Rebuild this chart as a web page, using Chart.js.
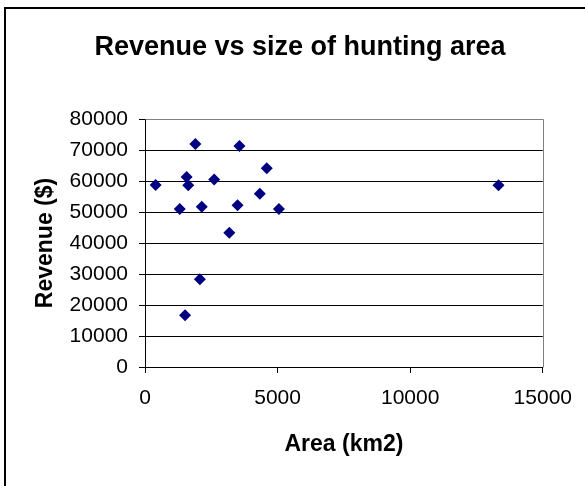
<!DOCTYPE html>
<html>
<head>
<meta charset="utf-8">
<script src="https://cdn.jsdelivr.net/npm/chart.js@4.4.0/dist/chart.umd.min.js"></script>
<style>
  html, body { margin: 0; padding: 0; background: #fff; }
  #wrap { width: 585px; height: 486px; }
</style>
</head>
<body>
<div id="wrap"><canvas id="scatterChart" width="585" height="486"></canvas></div>
<script>
// données
const areaKm2 = [400, 1900, 1570, 1630, 1310, 2140, 2610, 3560, 4590, 4330, 3490, 5050, 3180, 2070, 1510, 13330]
const revenue = [58700, 71900, 61300, 58600, 51000, 51700, 60500, 71300, 64100, 55900, 52200, 51000, 43300, 28300, 16700, 58600]
const xTicks = [0, 5000, 10000, 15000]
const yTicks = [0, 10000, 20000, 30000, 40000, 50000, 60000, 70000, 80000]

const FONT = "'Liberation Sans', Arial, sans-serif"

// fond blanc + cadre noir autour du graphique, bordure grise du plot
const frame = {
  id: 'frame',
  beforeDraw(chart) {
    const ctx = chart.ctx
    ctx.save()
    ctx.fillStyle = '#fff'
    ctx.fillRect(0, 0, chart.width, chart.height)
    ctx.strokeStyle = '#000'
    ctx.lineWidth = 2
    ctx.beginPath()
    ctx.moveTo(5, chart.height)
    ctx.lineTo(5, 8)
    ctx.lineTo(chart.width, 8)
    ctx.stroke()
    ctx.restore()
  },
  afterDatasetsDraw(chart) {
    const { left, right, top, bottom } = chart.chartArea
    const ctx = chart.ctx
    ctx.save()
    ctx.strokeStyle = '#808080'
    ctx.lineWidth = 1
    ctx.beginPath()
    ctx.moveTo(Math.round(left) + 0.5, Math.round(top) + 0.5)
    ctx.lineTo(Math.round(right) + 0.5, Math.round(top) + 0.5)
    ctx.lineTo(Math.round(right) + 0.5, Math.round(bottom) + 0.5)
    ctx.stroke()
    ctx.restore()
  },
}

new Chart(document.getElementById('scatterChart'), {
  type: 'scatter',
  data: {
    datasets: [
      {
        label: 'Revenue',
        data: areaKm2.map((a, i) => ({ x: a, y: revenue[i] })),
        pointStyle: 'rectRot',
        pointRadius: 6,
        pointHoverRadius: 6,
        backgroundColor: '#000080',
        borderColor: '#000080',
        borderWidth: 0,
      },
    ],
  },
  options: {
    responsive: false,
    animation: false,
    // padding gauche pour centrer le titre vers x=300
    layout: { padding: { left: 57, right: 42, top: 0, bottom: 0 } },
    plugins: {
      legend: { display: false },
      tooltip: { enabled: false },
      title: {
        display: true,
        text: 'Revenue vs size of hunting area',
        color: '#000',
        font: { family: FONT, size: 27, weight: 'bold' },
        padding: { top: 31, bottom: 55.6 },
      },
    },
    scales: {
      x: {
        type: 'linear',
        min: 0,
        max: 15000,
        afterBuildTicks: (s) => { s.ticks = xTicks.map((v) => ({ value: v })) },
        afterFit: (s) => { s.height = 119 },
        ticks: {
          color: '#000',
          font: { family: FONT, size: 21 },
          padding: 13,
          maxRotation: 0,
          callback: (v) => String(v),
        },
        grid: { drawOnChartArea: false, drawTicks: true, tickLength: 6, color: '#000' },
        border: { color: '#000', width: 1 },
        title: {
          display: true,
          text: 'Area (km2)',
          color: '#000',
          font: { family: FONT, size: 23, weight: 'bold' },
          padding: { top: 0, bottom: 28 },
        },
      },
      y: {
        type: 'linear',
        min: 0,
        max: 80000,
        afterBuildTicks: (s) => { s.ticks = yTicks.map((v) => ({ value: v })) },
        afterFit: (s) => { s.width = 88 },
        ticks: {
          color: '#000',
          font: { family: FONT, size: 21 },
          padding: 11,
          callback: (v) => String(v),
        },
        grid: { color: '#000', tickLength: 6, drawTicks: true },
        border: { color: '#000', width: 1 },
        title: {
          display: true,
          text: 'Revenue ($)',
          color: '#000',
          font: { family: FONT, size: 23, weight: 'bold' },
          padding: { top: -24.8, bottom: 0 },
        },
      },
    },
  },
  plugins: [frame],
})
</script>
</body>
</html>
